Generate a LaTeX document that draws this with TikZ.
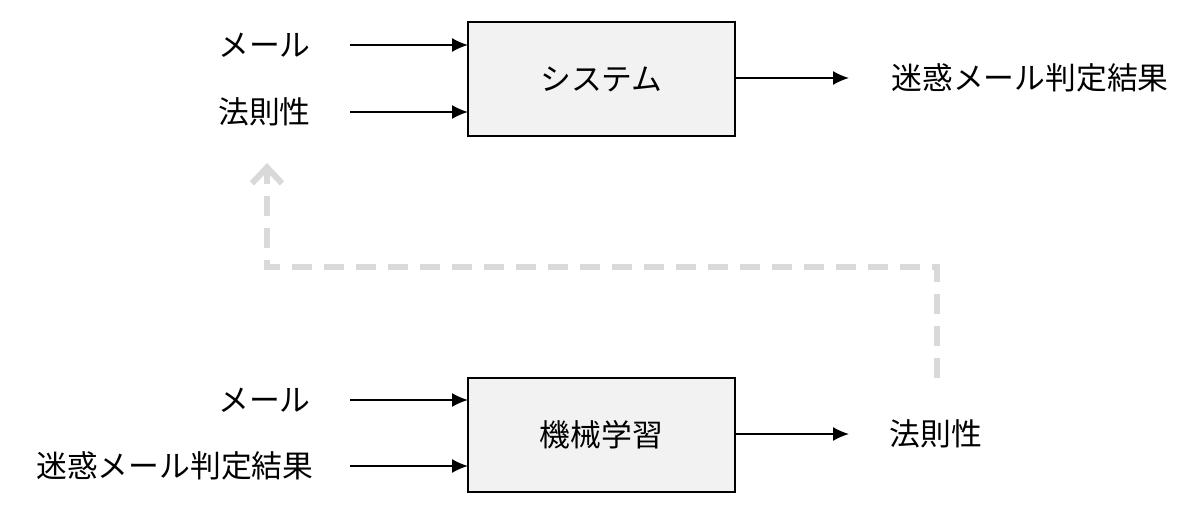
\documentclass[tikz,border=0pt]{standalone}
\usepackage{fontspec}
\setmainfont{Noto Sans CJK JP}
\usetikzlibrary{arrows.meta}
\begin{document}
\begin{tikzpicture}[x=0.5pt,y=-0.5pt,
  box/.style={draw=black,line width=0.6pt,fill=black!5,minimum width=133.5pt,minimum height=57pt,inner sep=0pt,font=\fontsize{15.4}{18}\selectfont},
  lbl/.style={font=\fontsize{15.4}{18}\selectfont,inner sep=0pt},
  arr/.style={-{Latex[length=8pt,width=7pt]},line width=0.8pt},
  fb/.style={draw=black!15,line width=3pt,dash pattern=on 10pt off 6pt,-{Straight Barb[length=8pt,width=15pt,line width=3pt]}}]
\useasboundingbox (0,0) rectangle (1200,518);
\node[box] (sys) at (601.5,79) {システム};
\node[box] (ml) at (601.5,435) {機械学習};
\node[lbl,anchor=east] (m1) at (311,45) {メール};
\node[lbl,anchor=east] (h1) at (311,112) {法則性};
\node[lbl,anchor=west] (o1) at (891,78) {迷惑メール判定結果};
\node[lbl,anchor=east] (m2) at (311,400) {メール};
\node[lbl,anchor=east] (s2) at (314,466) {迷惑メール判定結果};
\node[lbl,anchor=west] (o2) at (889,434) {法則性};
\coordinate (a1) at (350,45); \coordinate (b1) at (468,45);
\coordinate (a2) at (350,112); \coordinate (b2) at (468,112);
\coordinate (a3) at (350,400); \coordinate (b3) at (468,400);
\coordinate (a4) at (350,466); \coordinate (b4) at (468,466);
\draw[arr] (a1) -- (b1);
\draw[arr] (a2) -- (b2);
\draw[arr] (a3) -- (b3);
\draw[arr] (a4) -- (b4);
\draw[arr] (sys.east |- o1) -- (849,78);
\draw[arr] (ml.east |- o2) -- (849,434);
\coordinate (f0) at (937,378);
\coordinate (f1) at (937,267);
\coordinate (f2) at (267,267);
\coordinate (f3) at (267,163);
\draw[fb] (f0) -- (f1) -- (f2) -- (f3);
\end{tikzpicture}
\end{document}
